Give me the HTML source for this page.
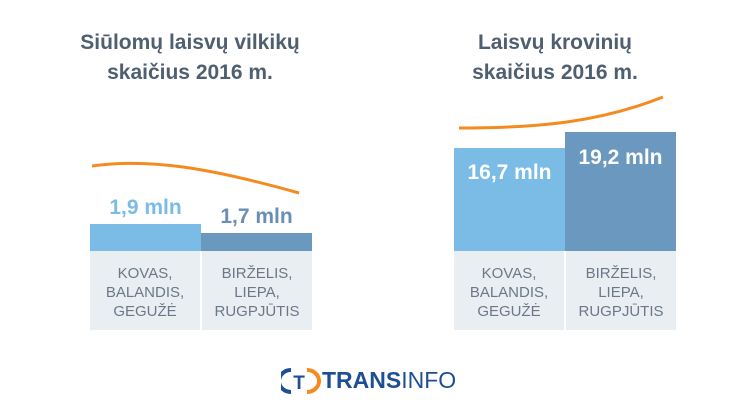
<!DOCTYPE html>
<html><head><meta charset="utf-8"><style>
body{margin:0;width:750px;height:416px;background:#fff;font-family:"Liberation Sans",sans-serif;position:relative;overflow:hidden}
div{position:absolute}
.t{font-weight:bold;font-size:21px;color:#4f5f70;text-align:center;line-height:30px}
.g{background:#e9eef2;color:#6a7888;font-size:15px;text-align:center;line-height:19px;padding-top:13px;box-sizing:border-box}
.v{font-weight:bold;font-size:21px;text-align:center}
</style></head><body>
<div class="t" style="left:40px;top:28px;width:300px">Siūlomų laisvų vilkikų<br>skaičius 2016 m.</div>
<div class="t" style="left:405px;top:28px;width:300px">Laisvų krovinių<br>skaičius 2016 m.</div>
<svg width="750" height="416" style="position:absolute;left:0;top:0">
<path d="M92,166 C150,158 210,168 299,193" stroke="#f58a1f" stroke-width="3" fill="none"/>
<path d="M459,128 C540,128 600,122 663,97" stroke="#f58a1f" stroke-width="3" fill="none"/>
</svg>
<div style="left:90px;top:224px;width:111px;height:27px;background:#7bbce7"></div>
<div style="left:201px;top:233px;width:111px;height:18px;background:#6a98bf"></div>
<div class="v" style="left:90px;top:196px;width:111px;color:#7bbce7">1,9 mln</div>
<div class="v" style="left:201px;top:205px;width:111px;color:#6a8fb5">1,7 mln</div>
<div class="g" style="left:90px;top:251px;width:110px;height:79px">KOVAS,<br>BALANDIS,<br>GEGUŽĖ</div>
<div class="g" style="left:202px;top:251px;width:110px;height:79px">BIRŽELIS,<br>LIEPA,<br>RUGPJŪTIS</div>
<div style="left:454px;top:148px;width:111px;height:103px;background:#7bbce7"></div>
<div style="left:565px;top:132px;width:111px;height:119px;background:#6a98bf"></div>
<div class="v" style="left:454px;top:161px;width:111px;color:#fff">16,7 mln</div>
<div class="v" style="left:565px;top:146px;width:111px;color:#fff">19,2 mln</div>
<div class="g" style="left:454px;top:251px;width:110px;height:79px">KOVAS,<br>BALANDIS,<br>GEGUŽĖ</div>
<div class="g" style="left:566px;top:251px;width:110px;height:79px">BIRŽELIS,<br>LIEPA,<br>RUGPJŪTIS</div>
<svg width="40" height="30" style="position:absolute;left:281px;top:366px">
<path d="M10,4 A12,11 0 0 0 10,26" stroke="#1e4f94" stroke-width="4" fill="none"/>
<path d="M26,4 A12,11 0 0 1 26,26" stroke="#f58a1f" stroke-width="4" fill="none"/>
<text x="18" y="23" font-family="Liberation Sans" font-weight="bold" font-size="19" fill="#1e4f94" text-anchor="middle">T</text>
</svg>
<div style="left:322px;top:367px;font-size:23px;color:#1e4f94;line-height:26px"><b>TRANS</b>INFO</div>
</body></html>
